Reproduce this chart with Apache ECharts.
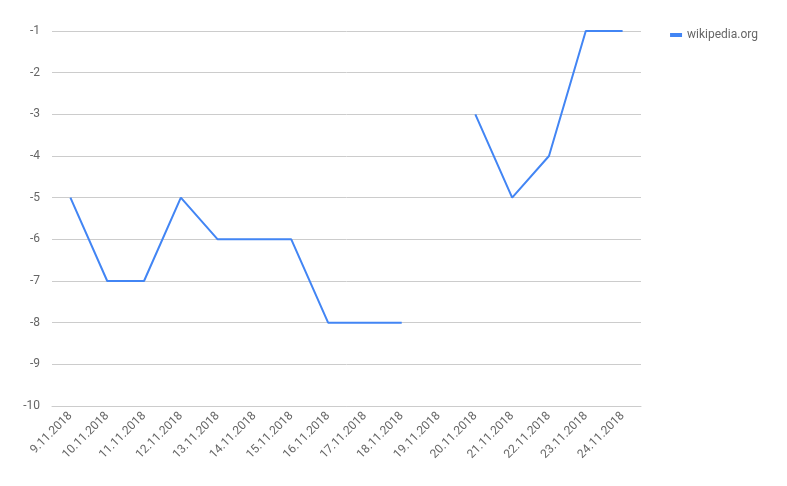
<!DOCTYPE html>
<html><head><meta charset="utf-8">
<script src="https://cdn.jsdelivr.net/npm/echarts@6/dist/echarts.min.js"></script>
<style>html,body{margin:0;padding:0;background:#fff}#c{width:787px;height:486px}</style>
</head><body><div id="c"></div>
<script>
const categories = ['9.11.2018','10.11.2018','11.11.2018','12.11.2018','13.11.2018','14.11.2018','15.11.2018','16.11.2018','17.11.2018','18.11.2018','19.11.2018','20.11.2018','21.11.2018','22.11.2018','23.11.2018','24.11.2018'];
const values = [-5,-7,-7,-5,-6,-6,-6,-8,-8,-8,null,-3,-5,-4,-1,-1];
const seriesName = 'wikipedia.org';
const chart = echarts.init(document.getElementById('c'));
chart.setOption({
  animation:false,
  textStyle:{fontFamily:'Roboto'},
  legend:{data:[seriesName],right:24,top:24,orient:'vertical',icon:'rect',itemWidth:12,itemHeight:4,itemGap:8,
    textStyle:{color:'#666',fontSize:12,fontFamily:'Roboto'}},
  grid:{left:52,right:146,top:31,bottom:80},
  xAxis:{type:'category',data:categories,boundaryGap:true,
    axisLine:{lineStyle:{color:'#ccc'}},axisTick:{show:false},
    axisLabel:{rotate:45,color:'#666',fontSize:12,interval:0,margin:8}},
  yAxis:{type:'value',min:-10,max:-1,interval:1,
    axisLine:{show:false},axisTick:{show:false},
    axisLabel:{color:'#666',fontSize:12,margin:12},
    splitLine:{lineStyle:{color:'#ccc'}}},
  series:[{name:seriesName,type:'line',data:values,showSymbol:false,connectNulls:false,
    lineStyle:{color:'#4285f4',width:2},itemStyle:{color:'#4285f4'}}]
});
</script></body></html>
